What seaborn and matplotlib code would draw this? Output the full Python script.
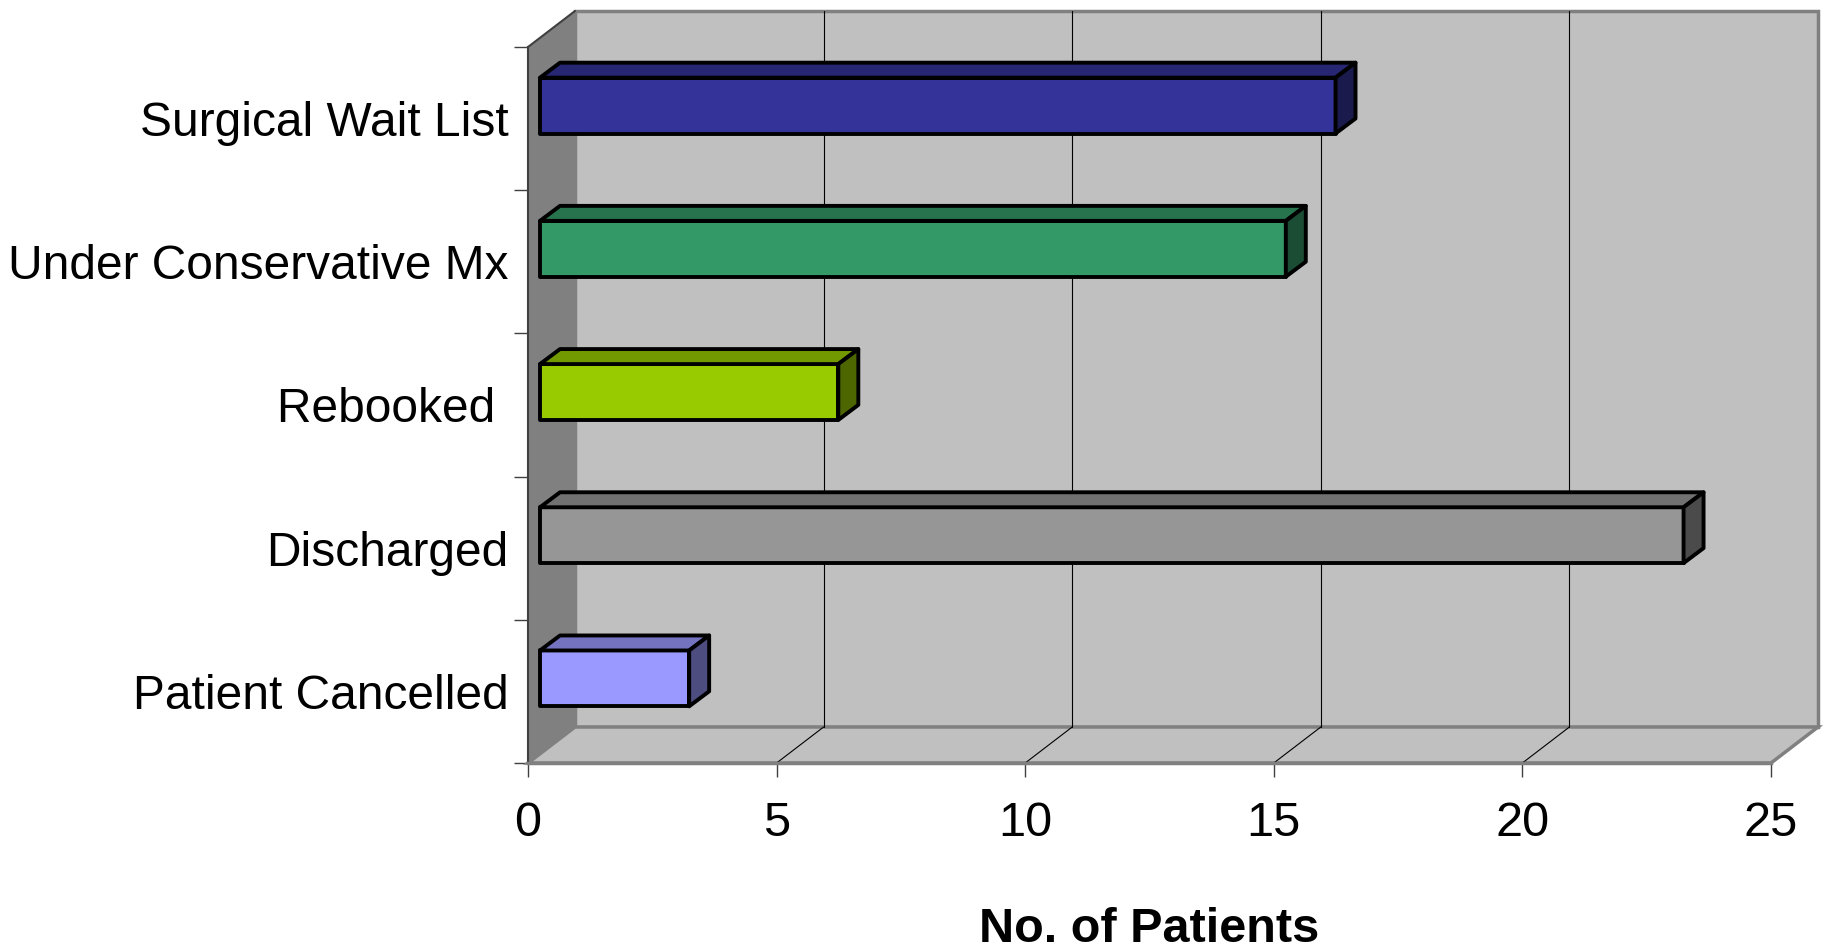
import numpy as np
import matplotlib
matplotlib.use('Agg')
import matplotlib.pyplot as plt
from matplotlib.patches import Polygon, Rectangle
from matplotlib import colors as mcolors
import seaborn as sns

# ── données ────────────────────────────────────────────────────────────────
categories = ['Surgical Wait List', 'Under Conservative Mx', 'Rebooked ',
              'Discharged', 'Patient Cancelled']
patients = [16, 15, 6, 23, 3]
bar_colors = ['#333399', '#339966', '#99cc00', '#969696', '#9999ff']
x_ticks = [0, 5, 10, 15, 20, 25]

sns.set_style('ticks')
plt.rcParams['font.family'] = ['Liberation Sans', 'DejaVu Sans']
plt.rcParams['text.color'] = 'black'
plt.rcParams['axes.labelcolor'] = 'black'

W, H = 1827, 948
fig = plt.figure(figsize=(W / 100, H / 100), dpi=100)
# front plane of the 3D box, in pixels: x 528..1771, y 47..763
ax = fig.add_axes([528 / W, 185 / H, 1243 / W, 716 / H])
ax.set_facecolor('none')

n = len(categories)
xmax = x_ticks[-1]
px_x = xmax / 1243          # data units per pixel
px_y = n / 716

# depth offsets (pixels -> data)
dX, dY = 47 * px_x, 36 * px_y        # whole box depth
fX, fY = 12 * px_x, 13 * px_y        # bar front face offset
bX, bY = 20 * px_x, 15 * px_y        # bar depth
lw_bar = 2.8

# ── barres (face avant) ────────────────────────────────────────────────────
sns.barplot(x=patients, y=categories, hue=categories, palette=bar_colors,
            legend=False, orient='h', width=0.39, saturation=1,
            edgecolor='black', linewidth=lw_bar, ax=ax)
bars = list(ax.patches)

for p, c in zip(bars, bar_colors):
    p.set_x(p.get_x() + fX)
    p.set_y(p.get_y() - fY)
    p.set_zorder(3)
    p.set_clip_on(False)
    p.set_joinstyle('round')
    x0, y0 = p.get_x(), p.get_y()
    x1, y1 = x0 + p.get_width(), y0 + p.get_height()
    rgb = np.array(mcolors.to_rgb(c))
    top = Polygon([(x0, y0), (x1, y0), (x1 + bX, y0 - bY), (x0 + bX, y0 - bY)],
                  closed=True, facecolor=rgb * 0.75, edgecolor='black',
                  linewidth=lw_bar, zorder=3, clip_on=False, joinstyle='round')
    side = Polygon([(x1, y0), (x1, y1), (x1 + bX, y1 - bY), (x1 + bX, y0 - bY)],
                   closed=True, facecolor=rgb * 0.5, edgecolor='black',
                   linewidth=lw_bar, zorder=3, clip_on=False, joinstyle='round')
    ax.add_patch(top)
    ax.add_patch(side)

# ── boîte 3D : mur du fond, mur gauche, sol ───────────────────────────────
y_top, y_bot = -0.5, n - 0.5
back = Rectangle((dX, y_top - dY), xmax, n, facecolor='#c0c0c0',
                 edgecolor='#808080', linewidth=2.5, zorder=0.5, clip_on=False)
ax.add_patch(back)
left_wall = Polygon([(0, y_top), (dX, y_top - dY), (dX, y_bot - dY), (0, y_bot)],
                    closed=True, facecolor='#808080', edgecolor='none',
                    zorder=0.6, clip_on=False)
ax.add_patch(left_wall)
ax.plot([0, dX], [y_top, y_top - dY], color='#404040', lw=1.5,
        zorder=0.7, clip_on=False)
floor = Polygon([(0, y_bot), (xmax, y_bot), (xmax + dX, y_bot - dY), (dX, y_bot - dY)],
                closed=True, facecolor='#c0c0c0', edgecolor='#808080',
                linewidth=2.5, zorder=0.7, clip_on=False)
ax.add_patch(floor)

# grille verticale (fond + sol)
for v in x_ticks[1:-1]:
    ax.plot([v + dX, v + dX], [y_top - dY, y_bot - dY], color='black',
            lw=0.8, zorder=0.8, clip_on=False)
    ax.plot([v, v + dX], [y_bot, y_bot - dY], color='black',
            lw=0.8, zorder=0.8, clip_on=False)

# ── axes ───────────────────────────────────────────────────────────────────
ax.set_xlim(0, xmax)
ax.set_ylim(y_bot, y_top)
ax.set_xticks(x_ticks)
ax.set_xticklabels([str(t) for t in x_ticks], fontsize=35)
ax.set_yticks(range(n))
ax.set_yticklabels(categories, fontsize=34.5)
ax.set_yticks(np.arange(n + 1) - 0.5, minor=True)
ax.tick_params(axis='y', which='major', length=0, pad=14, labelcolor='black')
ax.tick_params(axis='y', which='minor', left=True, length=10, width=1,
               color='#404040')
ax.tick_params(axis='x', which='major', bottom=True, length=10, width=1,
               color='#404040', pad=17, labelcolor='black')
ax.tick_params(axis='x', which='minor', bottom=False)
ax.set_ylabel('')
ax.set_xlabel('No. of Patients', fontsize=35, fontweight='bold', labelpad=44,
              color='black')

for s in ['top', 'right']:
    ax.spines[s].set_visible(False)
ax.spines['left'].set_color('#404040')
ax.spines['left'].set_linewidth(1.5)
ax.spines['left'].set_zorder(1)
ax.spines['bottom'].set_color('#808080')
ax.spines['bottom'].set_linewidth(2.5)
ax.spines['bottom'].set_zorder(1)

fig.savefig('out.png', dpi=100, facecolor='white')
